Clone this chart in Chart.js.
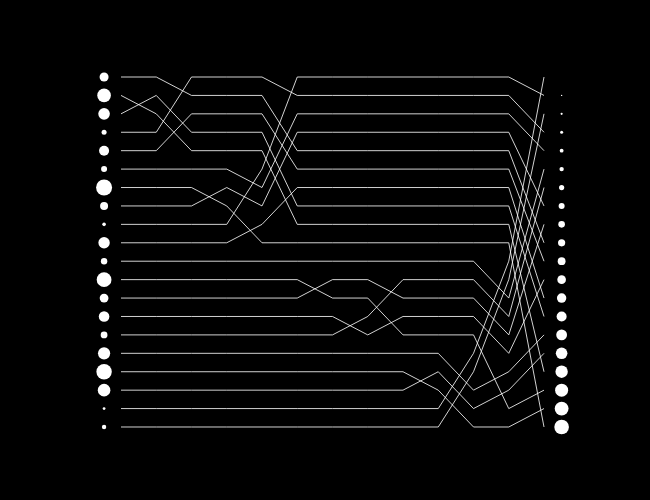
<!DOCTYPE html>
<html><head><meta charset="utf-8">
<script src="https://cdn.jsdelivr.net/npm/chart.js@4/dist/chart.umd.min.js"></script>
<style>html,body{margin:0;padding:0;background:#000;}#wrap{width:650px;height:500px;background:#000;}</style>
</head><body><div id="wrap"><canvas id="c" width="650" height="500"></canvas></div>
<script>
// time steps (columns)
const steps = [0,1,2,3,4,5,6,7,8,9,10,11,12];
// rank (row, 0 = top) of each series at each step
const s00 = [0,0,1,1,1,4,4,4,4,4,4,4,9];
const s01 = [1,2,4,4,4,8,8,8,8,8,8,8,16];
const s02 = [2,1,3,3,3,7,7,7,7,7,7,7,13];
const s03 = [3,3,0,0,0,1,1,1,1,1,1,1,3];
const s04 = [4,4,2,2,2,5,5,5,5,5,5,5,10];
const s05 = [5,5,5,5,6,2,2,2,2,2,2,2,4];
const s06 = [6,6,6,7,9,9,9,9,9,9,9,9,19];
const s07 = [7,7,7,6,7,3,3,3,3,3,3,3,7];
const s08 = [8,8,8,8,5,0,0,0,0,0,0,0,1];
const s09 = [9,9,9,9,8,6,6,6,6,6,6,6,12];
const s10 = [10,10,10,10,10,10,10,10,10,10,10,12,5];
const s11 = [11,11,11,11,11,11,12,12,14,14,14,18,17];
const s12 = [12,12,12,12,12,12,11,11,12,12,12,14,8];
const s13 = [13,13,13,13,13,13,13,14,13,13,13,15,11];
const s14 = [14,14,14,14,14,14,14,13,11,11,11,13,6];
const s15 = [15,15,15,15,15,15,15,15,15,15,17,16,14];
const s16 = [16,16,16,16,16,16,16,16,16,17,19,19,18];
const s17 = [17,17,17,17,17,17,17,17,17,16,18,17,15];
const s18 = [18,18,18,18,18,18,18,18,18,18,15,10,0];
const s19 = [19,19,19,19,19,19,19,19,19,19,16,11,2];
const series = [s00,s01,s02,s03,s04,s05,s06,s07,s08,s09,s10,s11,s12,s13,s14,s15,s16,s17,s18,s19];
// dot sizes at start (by starting row) and at end (by final row)
const startSizes = [4.5,6.8,5.8,2.5,5.0,3.0,8.0,4.0,1.8,5.7,3.2,7.4,4.4,5.3,3.4,6.1,7.7,6.3,1.4,2.2];
const endSizes = [0,0.7,1.1,1.5,1.9,2.2,2.6,3.0,3.3,3.6,3.9,4.3,4.7,5.0,5.4,5.8,6.2,6.5,6.9,7.3];
const rows = startSizes.map((_, i) => i);

const datasets = series.map(s => ({
  data: s.map((r, i) => ({x: steps[i], y: r})),
  showLine: true, borderColor: 'rgba(255,255,255,0.82)', borderWidth: 1,
  pointRadius: 0, fill: false, tension: 0
}));
datasets.push({
  data: rows.map(r => ({x: -0.48, y: r})), showLine: false,
  pointRadius: startSizes, pointBackgroundColor: '#fff', pointBorderWidth: 0, pointHoverRadius: startSizes
});
datasets.push({
  data: rows.map(r => ({x: 12.5, y: r})), showLine: false,
  pointRadius: endSizes, pointBackgroundColor: '#fff', pointBorderWidth: 0, pointHoverRadius: endSizes
});

new Chart(document.getElementById('c'), {
  type: 'scatter',
  data: {datasets},
  options: {
    responsive: false, animation: false, devicePixelRatio: 1,
    layout: {padding: {left: 85.75, right: 70.75, top: 58.58, bottom: 54.58}},
    clip: false,
    scales: {
      x: {type: 'linear', min: -1, max: 13, display: false},
      y: {type: 'linear', min: -1, max: 20, reverse: true, display: false}
    },
    plugins: {legend: {display: false}, tooltip: {enabled: false}}
  }
});
</script>
</body></html>
